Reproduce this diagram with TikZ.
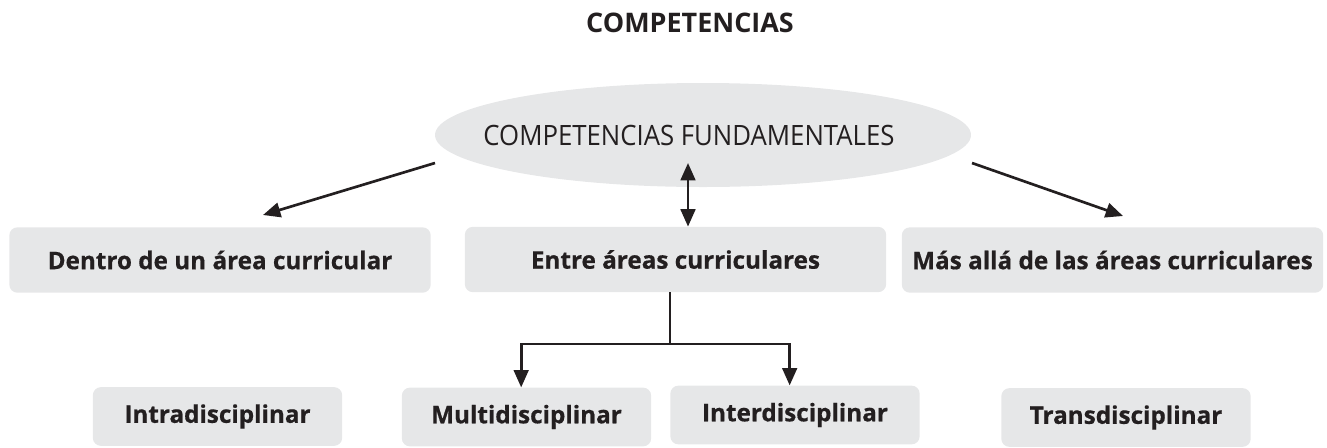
\documentclass[tikz,border=0pt]{standalone}
\usepackage{fontspec}
\setmainfont{Open Sans}
\newfontfamily\estrecha{Open Sans}[FakeStretch=0.92]
\newfontfamily\negrita{Open Sans}[FakeBold=0.6]
\usetikzlibrary{shapes.geometric,arrows.meta}
\definecolor{gris}{HTML}{E6E7E8}
\definecolor{tinta}{HTML}{231F20}

\begin{document}
\begin{tikzpicture}
  [x=0.75pt,y=-0.75pt,
   every node/.style={text=tinta,inner sep=0pt},
   punta/.tip={Triangle[length=13pt,width=11pt]},
   titulo/.style={font=\bfseries\fontsize{20.2pt}{24pt}\selectfont},
   fund/.style={ellipse,fill=gris,minimum width=402pt,minimum height=78pt},
   area/.style={fill=gris,rounded corners=6pt,minimum width=316pt,minimum height=49pt,font=\negrita\bfseries\fontsize{18.2pt}{22pt}\selectfont},
   disc/.style={fill=gris,rounded corners=6pt,minimum width=187pt,minimum height=44pt,font=\negrita\bfseries\fontsize{18.2pt}{22pt}\selectfont},
   linea/.style={draw=tinta,line width=2pt}]
  \useasboundingbox (0,0) rectangle (1327,447);

  \node[titulo] (tit) at (690,23) {COMPETENCIAS};

  \node[fund] (fund) at (703,135) {};
  \node[font=\estrecha\fontsize{21pt}{25pt}\selectfont] (fundtxt) at (689,135) {COMPETENCIAS FUNDAMENTALES};

  \node[area] (dentro) at (220,260) {Dentro de un área curricular};
  \node[area] (entre) at (675.5,259.5) {Entre áreas curriculares};
  \node[area] (mas) at (1112.5,260) {Más allá de las áreas curriculares};

  \node[disc] (intra) at (217.5,416.5) {Intradisciplinar};
  \node[disc] (multi) at (526.5,417) {Multidisciplinar};
  \node[disc] (inter) at (795,415) {Interdisciplinar};
  \node[disc] (trans) at (1126,417.5) {Transdisciplinar};

  \coordinate (izq) at (435,163);
  \coordinate (izqfin) at (263,215);
  \coordinate (der) at (972,163);
  \coordinate (derfin) at (1123,216);
  \coordinate (doble) at (688,163);
  \coordinate (rama) at (670,344);

  \draw[linea,-punta] (izq) -- (izqfin);
  \draw[linea,-punta] (der) -- (derfin);
  \draw[linea,punta-punta] (doble) -- (doble |- entre.north);

  \draw[linea] (entre.south -| rama) -- (rama);
  \draw[linea,-punta] (rama) -| ([xshift=-4]multi.north);
  \draw[linea,-punta] (rama) -| ([xshift=-4]inter.north);
\end{tikzpicture}
\end{document}
